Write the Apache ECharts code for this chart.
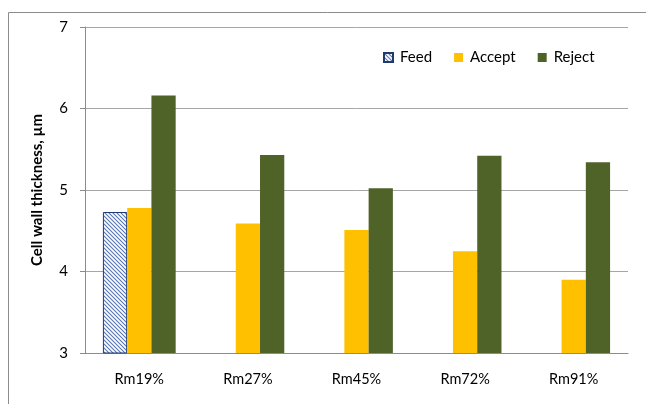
<!DOCTYPE html>
<html>
<head>
<meta charset="utf-8">
<script src="https://cdn.jsdelivr.net/npm/echarts@6/dist/echarts.min.js"></script>
<style>
html,body{margin:0;padding:0;background:#fff;}
#chart{width:646px;height:404px;}
</style>
</head>
<body>
<div id="chart"></div>
<script>
const categories = ['Rm19%', 'Rm27%', 'Rm45%', 'Rm72%', 'Rm91%'];
const feedValues = [4.73, null, null, null, null];
const acceptValues = [4.78, 4.59, 4.51, 4.25, 3.90];
const rejectValues = [6.16, 5.43, 5.02, 5.42, 5.34];
const yTicks = [3, 4, 5, 6, 7];
const seriesNames = ['Feed', 'Accept', 'Reject'];
const yAxisTitle = 'Cell wall thickness, µm';

function hatch() {
  const c = document.createElement('canvas');
  const s = 4;
  c.width = s; c.height = s;
  const g = c.getContext('2d');
  g.fillStyle = '#ffffff';
  g.fillRect(0, 0, s, s);
  g.strokeStyle = '#5577b0';
  g.lineWidth = 1.1;
  g.beginPath();
  g.moveTo(-1, -1); g.lineTo(s + 1, s + 1);
  g.moveTo(-1, s - 1); g.lineTo(1, s + 1);
  g.moveTo(s - 1, -1); g.lineTo(s + 1, 1);
  g.stroke();
  return c;
}

const chart = echarts.init(document.getElementById('chart'), null, {renderer: 'canvas'});
const font = 'Lato, "Liberation Sans", sans-serif';
chart.setOption({
  animation: false,
  textStyle: {fontFamily: font},
  graphic: [{
    type: 'rect', silent: true,
    shape: {x: 8.5, y: 12.5, width: 800, height: 600},
    style: {fill: 'none', stroke: '#8c8c8c', lineWidth: 1}
  }],
  grid: {left: 85, right: 18, top: 27, bottom: 51},
  legend: {
    left: 378, top: 45, icon: 'rect',
    itemWidth: 9, itemHeight: 9, itemGap: 22,
    textStyle: {fontSize: 15, color: '#000', fontFamily: font, padding: [0, 0, 0, 2]},
    data: seriesNames
  },
  xAxis: {
    type: 'category', data: categories,
    axisLine: {lineStyle: {color: '#8c8c8c', width: 1}},
    axisTick: {length: 5, lineStyle: {color: '#8c8c8c'}},
    axisLabel: {color: '#000', fontSize: 14.5, margin: 19, fontFamily: font}
  },
  yAxis: {
    type: 'value', min: yTicks[0], max: yTicks[yTicks.length - 1], interval: 1,
    name: yAxisTitle, nameLocation: 'middle', nameGap: 40,
    nameTextStyle: {fontSize: 15, fontWeight: 'bold', color: '#000', fontFamily: font},
    axisLine: {show: true, lineStyle: {color: '#8c8c8c'}},
    axisTick: {show: true, length: 5, lineStyle: {color: '#8c8c8c'}},
    axisLabel: {color: '#000', fontSize: 15, margin: 17, fontFamily: font},
    splitLine: {lineStyle: {color: '#a6a6a6', width: 1}}
  },
  series: [
    {name: seriesNames[0], type: 'bar', data: feedValues, barGap: '0%', barCategoryGap: '33%',
     itemStyle: {color: {image: hatch(), repeat: 'repeat'}, borderColor: '#1f3a70', borderWidth: 1}},
    {name: seriesNames[1], type: 'bar', data: acceptValues, barGap: '0%', barCategoryGap: '33%',
     itemStyle: {color: '#FFC000'}},
    {name: seriesNames[2], type: 'bar', data: rejectValues, barGap: '0%', barCategoryGap: '33%',
     itemStyle: {color: '#4F6228'}}
  ]
});
</script>
</body>
</html>
